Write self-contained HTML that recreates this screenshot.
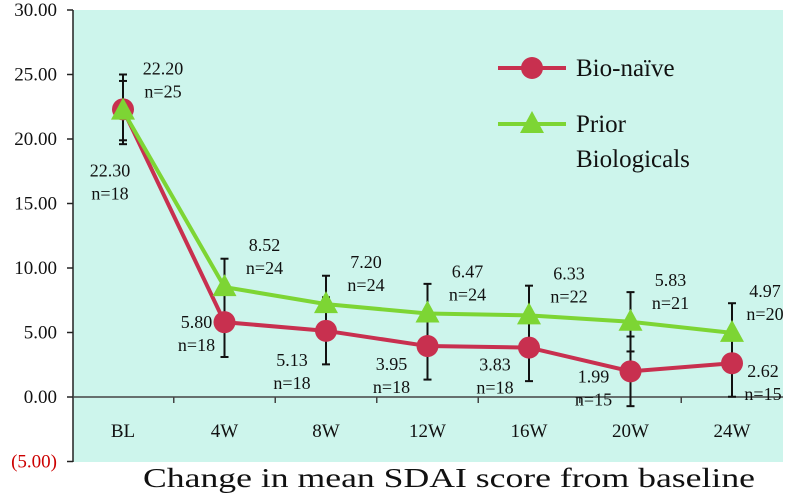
<!DOCTYPE html>
<html><head><meta charset="utf-8"><style>
body{margin:0;background:#fff;}
svg{display:block;font-family:"Liberation Serif",serif;}
</style></head><body>
<svg id="c" width="786" height="496"></svg>
<script>
const categories=["BL","4W","8W","12W","16W","20W","24W"];
const bioValues=[22.30,5.80,5.13,3.95,3.83,1.99,2.62];
const bioN=[18,18,18,18,18,15,15];
const bioSD=[2.7,2.7,2.6,2.6,2.6,2.7,2.6];
const priorValues=[22.20,8.52,7.20,6.47,6.33,5.83,4.97];
const priorN=[25,24,24,24,22,21,20];
const priorSD=[2.3,2.2,2.2,2.3,2.3,2.3,2.3];
const yTicks=[30,25,20,15,10,5,0,-5];
const bioLabelDx=[-13,-28,-34,-36,-34,-37,31];
const bioLabelDy=[61,0,29,18,17,5,8];
const priorLabelDx=[40,40,40,40,40,40,33];

const svg=document.getElementById('c');
const NS='http://www.w3.org/2000/svg';
function el(t,a,p){const e=document.createElementNS(NS,t);for(const k in a)e.setAttribute(k,a[k]);(p||svg).appendChild(e);return e;}
const x=i=>123+101.5*i;
const y=v=>397-12.9*v;

let bg=el('rect',{x:73,y:10,width:710,height:452,fill:'#cdf5ec'});


let ya=el('line',{x1:73,y1:10,x2:73,y2:462,stroke:'#222','stroke-width':1.5});


yTicks.forEach(v=>{
  el('line',{x1:67,y1:y(v),x2:73,y2:y(v),stroke:'#222','stroke-width':1.5});
  const t=el('text',{x:57,y:y(v)+6,'text-anchor':'end','font-size':19,fill:v<0?'#c00':'#111'});
  t.textContent=v<0?'('+Math.abs(v).toFixed(2)+')':v.toFixed(2);
  
  
});
let xa=el('line',{x1:73,y1:y(0),x2:783,y2:y(0),stroke:'#444','stroke-width':1.5});


categories.forEach((c,i)=>{
  if(i>0)el('line',{x1:x(i)-50.75,y1:y(0),x2:x(i)-50.75,y2:y(0)+6,stroke:'#444','stroke-width':1.5});
  const t=el('text',{x:x(i),y:437,'text-anchor':'middle','font-size':19,fill:'#111'});
  t.textContent=c;
  
  
});
function err(i,v,sd){
  const g=el('g',{stroke:'#111','stroke-width':2});
  el('line',{x1:x(i),y1:y(v-sd),x2:x(i),y2:y(v+sd)},g);
  el('line',{x1:x(i)-4,y1:y(v-sd),x2:x(i)+4,y2:y(v-sd)},g);
  el('line',{x1:x(i)-4,y1:y(v+sd),x2:x(i)+4,y2:y(v+sd)},g);
  
  
}
categories.forEach((c,i)=>{err(i,bioValues[i],bioSD[i]);err(i,priorValues[i],priorSD[i]);});
let rl=el('polyline',{points:bioValues.map((v,i)=>x(i)+','+y(v)).join(' '),fill:'none',stroke:'#c8304f','stroke-width':4});


let gl=el('polyline',{points:priorValues.map((v,i)=>x(i)+','+y(v)).join(' '),fill:'none',stroke:'#7dd534','stroke-width':4});


bioValues.forEach((v,i)=>{
  const c=el('circle',{cx:x(i),cy:y(v),r:11,fill:'#c8304f'});
  
  
});
priorValues.forEach((v,i)=>{
  const px=x(i),py=y(v);
  const p=el('polygon',{points:`${px},${py-13} ${px-12},${py+9} ${px+12},${py+9}`,fill:'#7dd534'});
  
  
});
function label(cx,cy,a,b,name){
  const t1=el('text',{x:cx,y:cy+6,'text-anchor':'middle','font-size':18,fill:'#111'});t1.textContent=a;
  
  
  const t2=el('text',{x:cx,y:cy+29,'text-anchor':'middle','font-size':18,fill:'#111'});t2.textContent=b;
  
  
}
priorValues.forEach((v,i)=>label(x(i)+priorLabelDx[i],y(v)-42,v.toFixed(2),'n='+priorN[i],'prior-value-label'));
bioValues.forEach((v,i)=>label(x(i)+bioLabelDx[i],y(v)+bioLabelDy[i],v.toFixed(2),'n='+bioN[i],'bio-value-label'));
// legend
const lg=el('g',{});


el('line',{x1:498,y1:68,x2:566,y2:68,stroke:'#c8304f','stroke-width':4},lg);
el('circle',{cx:532,cy:68,r:11,fill:'#c8304f'},lg);
let t=el('text',{x:576,y:76,'font-size':25,fill:'#111'},lg);t.textContent='Bio-naïve';


el('line',{x1:498,y1:124,x2:566,y2:124,stroke:'#7dd534','stroke-width':4},lg);
el('polygon',{points:'532,111 520,133 544,133',fill:'#7dd534'},lg);
t=el('text',{x:576,y:132,'font-size':25,fill:'#111'},lg);t.textContent='Prior';


t=el('text',{x:576,y:167,'font-size':25,fill:'#111'},lg);t.textContent='Biologicals';


t=el('text',{x:143,y:487,'font-size':27,fill:'#111',textLength:612,lengthAdjust:'spacingAndGlyphs'});t.textContent='Change in mean SDAI score from baseline';


</script>
</body></html>
